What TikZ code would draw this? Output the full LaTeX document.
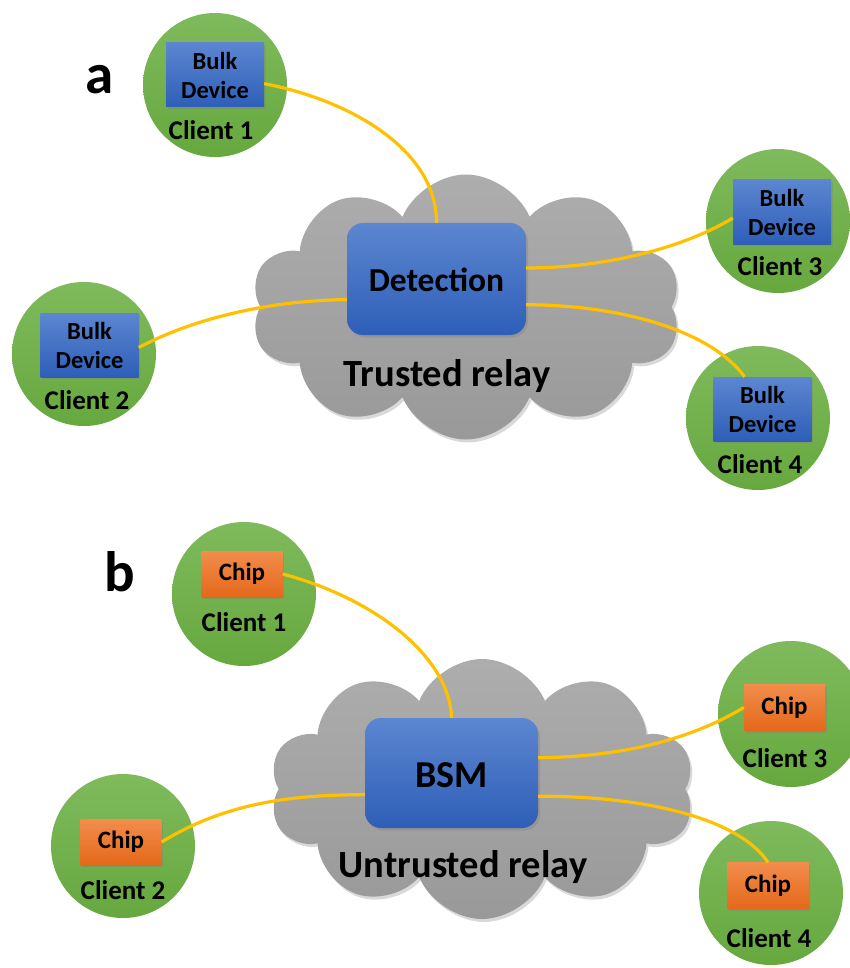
\documentclass[tikz,border=0pt]{standalone}
\usepackage{fontspec}
\setmainfont{Carlito}
\usetikzlibrary{shapes.symbols,shadows}
\definecolor{gtop}{HTML}{7FBA5C}
\definecolor{gbot}{HTML}{66A83E}
\definecolor{btop}{HTML}{5C86D0}
\definecolor{bbot}{HTML}{2E5EB8}
\definecolor{otop}{HTML}{F28D4C}
\definecolor{obot}{HTML}{E4681A}
\definecolor{ctop}{HTML}{ADADAD}
\definecolor{cbot}{HTML}{999999}
\definecolor{wire}{HTML}{FFC000}
\tikzset{
  client/.style={circle, minimum size=144pt, inner sep=0pt, top color=gtop, bottom color=gbot, draw=none},
  bulkbox/.style={rectangle, minimum width=98pt, minimum height=64pt, inner sep=0pt, top color=btop, bottom color=bbot,
    drop shadow={opacity=0.35, shadow xshift=1.5pt, shadow yshift=-2pt}, align=center,
    font=\bfseries\fontsize{24.5}{29}\selectfont},
  chipbox/.style={rectangle, minimum width=81pt, minimum height=46pt, inner sep=0pt, top color=otop, bottom color=obot,
    drop shadow={opacity=0.35, shadow xshift=1.5pt, shadow yshift=-2pt},
    font=\bfseries\fontsize{25}{29}\selectfont},
  relaybox/.style={rectangle, rounded corners=16pt, inner sep=0pt, top color=btop, bottom color=bbot,
    drop shadow={opacity=0.35, shadow xshift=2pt, shadow yshift=-2.5pt}},
  relaycloud/.style={cloud, cloud puffs=10, cloud puff arc=135, aspect=1.6, inner sep=0pt,
    top color=ctop, bottom color=cbot, draw=none,
    drop shadow={opacity=0.3, shadow xshift=2pt, shadow yshift=-3pt}},
  clientlabel/.style={font=\bfseries\fontsize{27}{32}\selectfont, inner sep=0pt},
  relaylabel/.style={font=\bfseries\fontsize{38.5}{44}\selectfont, inner sep=0pt},
  panellabel/.style={font=\bfseries\fontsize{57}{64}\selectfont, inner sep=0pt},
  link/.style={draw=wire, line width=3.2pt}
}
\begin{document}
\begin{tikzpicture}[x=1pt, y=-1pt]
\useasboundingbox (0,0) rectangle (849,968);
% ---------------- panel a ----------------
\node[panellabel] (la) at (100,80) {a};
\node[relaycloud, minimum width=430pt, minimum height=265pt] (clouda) at (466,307) {};
\node[client] (c1a) at (215,85) {};
\node[client] (c2a) at (84,354) {};
\node[client] (c3a) at (778,221) {};
\node[client] (c4a) at (758,418) {};
\node[relaybox, minimum width=179pt, minimum height=112pt] (det) at (436.5,279) {};
\node[font=\bfseries\fontsize{33.5}{40}\selectfont, inner sep=0pt] (dett) at (436.5,280) {Detection};
\node[relaylabel] (tr) at (447,376) {Trusted relay};
\node[bulkbox] (b1a) at (215,75) {Bulk\\Device};
\node[bulkbox] (b2a) at (89.5,345) {Bulk\\Device};
\node[bulkbox] (b3a) at (782,212) {Bulk\\Device};
\node[bulkbox] (b4a) at (762.5,409) {Bulk\\Device};
\node[clientlabel] (l1a) at (211,130) {Client 1};
\node[clientlabel] (l2a) at (87,400) {Client 2};
\node[clientlabel] (l3a) at (780,266) {Client 3};
\node[clientlabel] (l4a) at (760,464) {Client 4};
\draw[link] (b1a.-10) .. controls (350,100) and (437,150) .. (det.north);
\draw[link] (b2a.-3) .. controls (200,315) and (280,300) .. (det.193);
\draw[link] (det.7) .. controls (600,268) and (680,250) .. (b3a.187);
\draw[link] (det.-16) .. controls (620,305) and (710,330) .. (b4a.119);
% ---------------- panel b ----------------
\node[panellabel] (lb) at (120,572) {b};
\node[relaycloud, minimum width=425pt, minimum height=260pt] (cloudb) at (482,789) {};
\node[client] (c1b) at (244,594) {};
\node[client] (c2b) at (123,846) {};
\node[client, minimum size=146pt] (c3b) at (791,714) {};
\node[client] (c4b) at (771,893) {};
\node[relaybox, minimum width=173pt, minimum height=110pt] (bsm) at (451.5,773) {};
\node[font=\bfseries\fontsize{38}{44}\selectfont, inner sep=0pt] (bsmt) at (451.5,775) {BSM};
\node[relaylabel] (ur) at (463,867) {Untrusted relay};
\node[chipbox] (p1b) at (242,574) {Chip};
\node[chipbox] (p2b) at (121,842) {Chip};
\node[chipbox] (p3b) at (784.5,707.5) {Chip};
\node[chipbox] (p4b) at (768,885.5) {Chip};
\node[clientlabel] (l1b) at (244,622) {Client 1};
\node[clientlabel] (l2b) at (123,890) {Client 2};
\node[clientlabel] (l3b) at (785,758) {Client 3};
\node[clientlabel] (l4b) at (769,938) {Client 4};
\draw[link] (p1b.east) .. controls (380,600) and (450,660) .. (bsm.north);
\draw[link] (p2b.east) .. controls (230,800) and (300,795) .. (bsm.194);
\draw[link] (bsm.10) .. controls (620,757) and (690,740) .. (p3b.west);
\draw[link] (bsm.-15) .. controls (650,796) and (740,820) .. (p4b.north);
\end{tikzpicture}
\end{document}
